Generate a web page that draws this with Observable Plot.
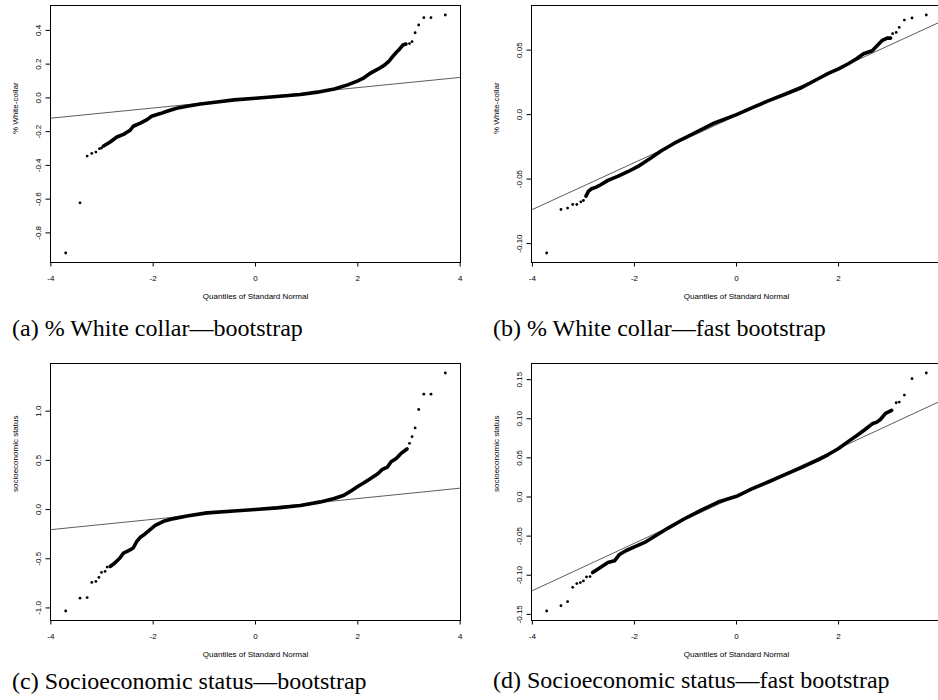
<!DOCTYPE html>
<html>
<head>
<meta charset="utf-8">
<script src="https://cdn.jsdelivr.net/npm/d3@7"></script>
<script src="https://cdn.jsdelivr.net/npm/@observablehq/plot@0.6"></script>
<style>
  html, body { margin: 0; padding: 0; background: white; }
  #fig { position: relative; width: 938px; height: 700px; overflow: hidden; background: white; }
  .panel { position: absolute; }
  .panel svg { max-width: none; display: block; }
  .cap { position: absolute; font-family: "Liberation Serif", "Times New Roman", serif; font-size: 24px; line-height: 24px; color: black; white-space: nowrap; }
</style>
</head>
<body>
<div id="fig"></div>
<script>
// ---- data ----
const xTicks = [-4, -2, 0, 2, 4];
const xLabels = ["-4", "-2", "0", "2", "4"];
const xTitle = "Quantiles of Standard Normal";

// (a) % White collar — bootstrap
const aBodyQ = [-2.97,-2.84,-2.71,-2.58,-2.45,-2.39,-2.25,-2.12,-2.03,-1.86,-1.73,-1.54,-1.34,-1.08,-0.75,-0.42,0,0.42,0.88,1.21,1.54,1.80,1.99,2.12,2.25,2.39,2.52,2.61,2.68,2.75,2.81,2.88,2.94];
const aBodyV = [-0.285,-0.261,-0.232,-0.216,-0.192,-0.168,-0.149,-0.129,-0.109,-0.093,-0.079,-0.061,-0.050,-0.036,-0.024,-0.012,-0.002,0.008,0.020,0.034,0.053,0.077,0.099,0.119,0.147,0.170,0.194,0.218,0.244,0.269,0.287,0.313,0.319];
const aTailQ = [-3.71,-3.43,-3.29,-3.20,-3.12,-3.05,-3.01,3.01,3.06,3.12,3.19,3.29,3.43,3.71];
const aTailV = [-0.919,-0.622,-0.345,-0.329,-0.321,-0.301,-0.297,0.322,0.333,0.386,0.432,0.475,0.475,0.491];
const aLine = [0.0005, 0.0302];
const aYTicks = [-0.8,-0.6,-0.4,-0.2,0,0.2,0.4];
const aYLabels = ["-0.8","-0.6","-0.4","-0.2","0.0","0.2","0.4"];

// (b) % White collar — fast bootstrap
const bBodyQ = [-2.95,-2.90,-2.84,-2.75,-2.66,-2.52,-2.33,-2.13,-1.93,-1.70,-1.48,-1.21,-0.95,-0.69,-0.43,0,0.30,0.62,0.95,1.28,1.61,1.80,2.0,2.20,2.36,2.49,2.66,2.75,2.85,2.95,3.02];
const bBodyV = [-0.0632,-0.0593,-0.0575,-0.0562,-0.0544,-0.0510,-0.0479,-0.0443,-0.0402,-0.0342,-0.0282,-0.0220,-0.0168,-0.0117,-0.0065,0,0.0052,0.0106,0.0158,0.0210,0.0280,0.0320,0.0355,0.0396,0.0435,0.0472,0.0495,0.0531,0.0573,0.0593,0.0593];
const bTailQ = [-3.72,-3.44,-3.31,-3.21,-3.13,-3.05,-3.00,3.06,3.13,3.19,3.29,3.44,3.72];
const bTailV = [-0.1073,-0.0736,-0.0725,-0.0697,-0.0697,-0.0676,-0.0666,0.0627,0.0637,0.0676,0.0733,0.0749,0.0772];
const bLine = [-0.0008, 0.0182];
const bYTicks = [-0.10,-0.05,0,0.05];
const bYLabels = ["-0.10","-0.05","0.0","0.05"];

// (c) Socioeconomic status — bootstrap
const cBodyQ = [-2.84,-2.75,-2.65,-2.58,-2.48,-2.39,-2.32,-2.25,-2.16,-2.06,-1.96,-1.80,-1.60,-1.34,-0.95,-0.42,0,0.42,0.88,1.27,1.54,1.73,1.86,1.99,2.12,2.25,2.39,2.48,2.58,2.65,2.75,2.84,2.96];
const cBodyV = [-0.578,-0.544,-0.493,-0.442,-0.418,-0.391,-0.323,-0.282,-0.248,-0.204,-0.160,-0.119,-0.092,-0.065,-0.034,-0.014,0,0.017,0.041,0.078,0.112,0.146,0.187,0.231,0.272,0.316,0.364,0.408,0.432,0.486,0.520,0.568,0.616];
const cTailQ = [-3.71,-3.43,-3.29,-3.20,-3.12,-3.06,-3.01,-2.94,-2.90,3.01,3.06,3.12,3.19,3.29,3.43,3.71];
const cTailV = [-1.031,-0.901,-0.895,-0.741,-0.731,-0.690,-0.639,-0.629,-0.585,0.673,0.741,0.830,1.017,1.173,1.173,1.388];
const cLine = [0.0065, 0.0527];
const cYTicks = [-1.0,-0.5,0,0.5,1.0];
const cYLabels = ["-1.0","-0.5","0.0","0.5","1.0"];

// (d) Socioeconomic status — fast bootstrap
const dBodyQ = [-2.82,-2.69,-2.52,-2.39,-2.30,-2.16,-2.0,-1.80,-1.61,-1.34,-1.02,-0.69,-0.36,0,0.30,0.62,0.95,1.28,1.61,1.80,2.0,2.20,2.36,2.52,2.66,2.75,2.82,2.92,3.04];
const dBodyV = [-0.0966,-0.0910,-0.0838,-0.0816,-0.0739,-0.0684,-0.0637,-0.0581,-0.0504,-0.0397,-0.0278,-0.0167,-0.0064,0.0009,0.0103,0.0192,0.0286,0.0380,0.0479,0.0543,0.0620,0.0714,0.0786,0.0863,0.0936,0.0957,0.0991,0.1068,0.1107];
const dTailQ = [-3.72,-3.44,-3.31,-3.21,-3.13,-3.06,-3.00,-2.94,-2.87,3.13,3.19,3.29,3.44,3.72];
const dTailV = [-0.1457,-0.1389,-0.1338,-0.1154,-0.1107,-0.1094,-0.1073,-0.1021,-0.1017,0.1205,0.1214,0.1303,0.1513,0.1585];
const dLine = [0.0015, 0.0303];
const dYTicks = [-0.15,-0.10,-0.05,0,0.05,0.10,0.15];
const dYLabels = ["-0.15","-0.10","-0.05","0.0","0.05","0.10","0.15"];

const captions = [
  "(a) % White collar\u2014bootstrap",
  "(b) % White collar\u2014fast bootstrap",
  "(c) Socioeconomic status\u2014bootstrap",
  "(d) Socioeconomic status\u2014fast bootstrap"
];

// ---- drawing ----
function pad4([lo, hi]) { const r = hi - lo; return [lo - 0.04 * r, hi + 0.04 * r]; }

function panel(cfg) {
  const allQ = cfg.bodyQ.concat(cfg.tailQ), allV = cfg.bodyV.concat(cfg.tailV);
  const xd = pad4(d3.extent(allQ)), yd = pad4(d3.extent(allV));
  const body = cfg.bodyQ.map((q, i) => ({q, v: cfg.bodyV[i]}));
  const tail = cfg.tailQ.map((q, i) => ({q, v: cfg.tailV[i]}));
  const ref = xd.map(q => ({q, v: cfg.line[0] + cfg.line[1] * q}));
  return Plot.plot({
    width: cfg.width,
    height: 300,
    marginLeft: cfg.marginLeft,
    marginRight: 9,
    marginTop: 5,
    marginBottom: 38,
    style: {fontFamily: "'Liberation Sans', Arial, Helvetica, sans-serif", fontSize: "8px", color: "black", background: "white", overflow: "visible"},
    x: {domain: xd},
    y: {domain: yd},
    marks: [
      Plot.axisX({ticks: xTicks, tickFormat: d => xLabels[xTicks.indexOf(d)], tickSize: 4.5, tickPadding: 8, label: null}),
      Plot.axisY({ticks: cfg.yTicks, tickFormat: d => cfg.yLabels[cfg.yTicks.indexOf(d)], tickSize: 4.5, tickPadding: 5, tickRotate: -90, label: null}),
      Plot.text([xTitle], {frameAnchor: "bottom", dy: 34, lineAnchor: "middle", text: d => d}),
      Plot.text([cfg.yTitle], {frameAnchor: "left", dx: -35, rotate: -90, lineAnchor: "middle", text: d => d}),
      Plot.line(ref, {x: "q", y: "v", stroke: "#333", strokeWidth: 0.8, clip: true}),
      Plot.line(body, {x: "q", y: "v", stroke: "black", strokeWidth: 3.6, strokeLinecap: "round", strokeLinejoin: "round"}),
      Plot.dot(tail, {x: "q", y: "v", r: 1.4, fill: "black", stroke: null}),
      Plot.frame({stroke: "black", strokeWidth: 1})
    ]
  });
}

const fig = document.getElementById("fig");
const panels = [
  {left: 0, top: 0, width: 469, marginLeft: 50, bodyQ: aBodyQ, bodyV: aBodyV, tailQ: aTailQ, tailV: aTailV, line: aLine, yTicks: aYTicks, yLabels: aYLabels, yTitle: "% White-collar", cap: [12, 316]},
  {left: 468, top: 0, width: 482, marginLeft: 63, bodyQ: bBodyQ, bodyV: bBodyV, tailQ: bTailQ, tailV: bTailV, line: bLine, yTicks: bYTicks, yLabels: bYLabels, yTitle: "% White-collar", cap: [493, 316]},
  {left: 0, top: 358, width: 469, marginLeft: 50, bodyQ: cBodyQ, bodyV: cBodyV, tailQ: cTailQ, tailV: cTailV, line: cLine, yTicks: cYTicks, yLabels: cYLabels, yTitle: "socioeconomic status", cap: [12, 669]},
  {left: 468, top: 358, width: 482, marginLeft: 63, bodyQ: dBodyQ, bodyV: dBodyV, tailQ: dTailQ, tailV: dTailV, line: dLine, yTicks: dYTicks, yLabels: dYLabels, yTitle: "socioeconomic status", cap: [493, 668]}
];
panels.forEach((cfg, i) => {
  const div = document.createElement("div");
  div.className = "panel";
  div.style.left = cfg.left + "px";
  div.style.top = cfg.top + "px";
  div.style.width = cfg.width + "px";
  div.appendChild(panel(cfg));
  fig.appendChild(div);
});
panels.forEach((cfg, i) => {
  const cap = document.createElement("div");
  cap.className = "cap";
  cap.style.left = cfg.cap[0] + "px";
  cap.style.top = cfg.cap[1] + "px";
  cap.textContent = captions[i];
  fig.appendChild(cap);
});
</script>
</body>
</html>
